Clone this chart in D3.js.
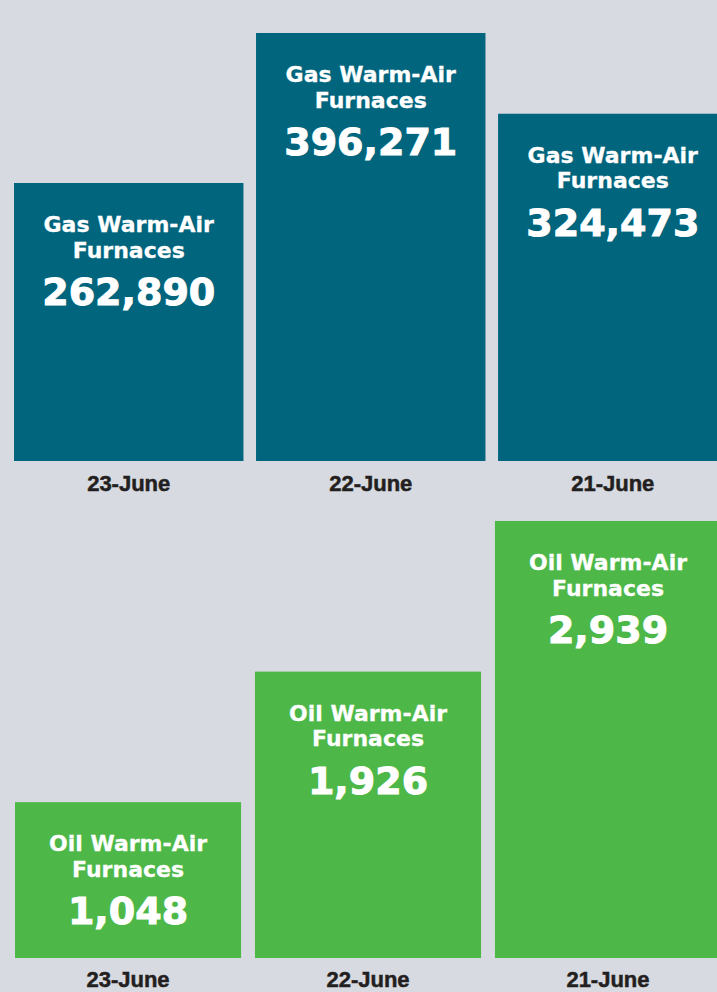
<!DOCTYPE html>
<html>
<head>
<meta charset="utf-8">
<script src="https://cdn.jsdelivr.net/npm/d3@7"></script>
<style>
  html, body { margin: 0; padding: 0; background: #d7dae0; }
  svg { display: block; }
</style>
</head>
<body>
<div id="chart"></div>
<script>
// chart values
const dates = ["23-June", "22-June", "21-June"];
const gasValues = [262890, 396271, 324473];
const oilValues = [1048, 1926, 2939];
const gasTitle = ["Gas Warm-Air", "Furnaces"];
const oilTitle = ["Oil Warm-Air", "Furnaces"];

const width = 717;
const height = 992;

const teal = "#01657e";
const green = "#4db848";

let svg;

svg = d3.select("#chart")
  .append("svg")
  .attr("width", width)
  .attr("height", height)

svg.append("rect")
  .attr("width", width)
  .attr("height", height)
  .attr("fill", "#d7dae0")

// top panel (gas)
const xTop = d3.scaleBand()
  .domain(dates)
  .range([14, 727.5])
  .paddingInner(0.052)
  .paddingOuter(0)

const yTop = d3.scaleLinear()
  .domain([15700, d3.max(gasValues)])
  .range([461, 33])

// bottom panel (oil)
const xBottom = d3.scaleBand()
  .domain(dates)
  .range([15, 721])
  .paddingInner(0.058)
  .paddingOuter(0)

const yBottom = d3.scaleLinear()
  .domain([0, d3.max(oilValues)])
  .range([958, 521])

function drawPanel(values, title, xScale, yScale, fill, padding) {
  const rows = dates.map((d, i) => ({ date: d, value: values[i] }))
  const g = svg.append("g")

  g.selectAll("rect")
    .data(rows)
    .join("rect")
    .attr("x", d => xScale(d.date))
    .attr("y", d => yScale(d.value))
    .attr("width", xScale.bandwidth())
    .attr("height", d => yScale.range()[0] - yScale(d.value))
    .attr("fill", fill)

  const labels = g.selectAll("g.lbl")
    .data(rows)
    .join("g")
    .attr("class", "lbl")
    .attr("transform", d => `translate(${xScale(d.date) + xScale.bandwidth() / 2}, ${yScale(d.value)})`)
    .attr("text-anchor", "middle")
    .attr("fill", "white")
    .attr("font-family", "'DejaVu Sans', sans-serif")
    .attr("font-weight", "bold")

  title.forEach((t, j) => {
    labels.append("text")
      .attr("y", 49 + j * 25.5)
      .attr("font-size", 22)
      .attr("stroke", "white")
      .attr("stroke-width", 0.3)
      .text(t)
  })

  labels.append("text")
    .attr("y", 122)
    .attr("font-size", 38)
    .attr("stroke", "white")
    .attr("stroke-width", 1)
    .text(d => d3.format(",")(d.value))

  // date labels from the axis
  const axis = g.append("g")
    .attr("transform", `translate(0, ${yScale.range()[0]})`)
    .call(d3.axisBottom(xScale).tickSize(0).tickPadding(padding))
    .attr("font-family", "'Liberation Sans', Arial, sans-serif")
    .attr("font-size", 22)

  axis.select(".domain").remove()
  axis.selectAll("text")
    .attr("font-weight", "bold")
    .attr("fill", "#231f20")
    .attr("stroke", "#231f20")
    .attr("stroke-width", 0.5)
}

drawPanel(gasValues, gasTitle, xTop, yTop, teal, 14)
drawPanel(oilValues, oilTitle, xBottom, yBottom, green, 13)
</script>
</body>
</html>
